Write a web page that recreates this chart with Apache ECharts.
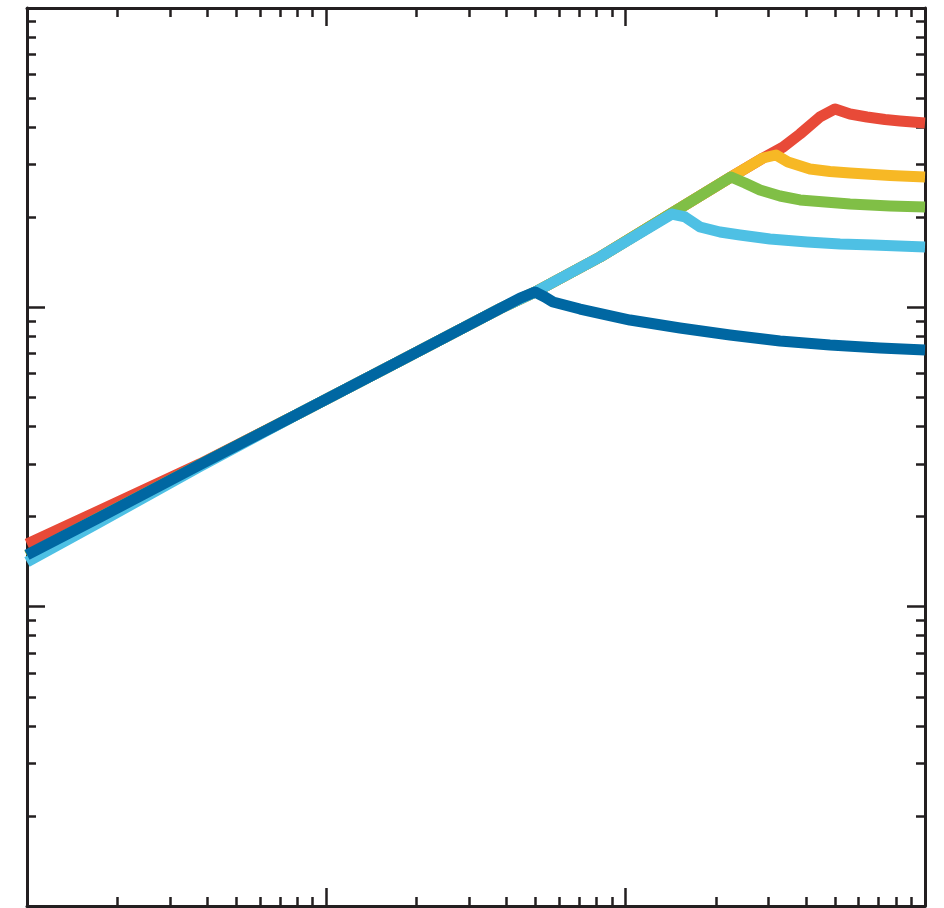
<!DOCTYPE html>
<html>
<head>
<meta charset="utf-8">
<script src="https://cdn.jsdelivr.net/npm/echarts@6/dist/echarts.min.js"></script>
<style>html,body{margin:0;padding:0;background:#fff}#c{width:944px;height:908px}</style>
</head>
<body>
<div id="c"></div>
<script>
// x, y pairs (x: 1..1000, y: 1..1000)
const seriesNames = ['A', 'B', 'C', 'D', 'E'];
const colors = ['#E84A38', '#F7B825', '#80BF46', '#4EC0E4', '#0067A2'];

const redX    = [1, 1.754, 3.784, 8.17, 17.63, 38.04, 49.8, 82.1, 142.8, 224.9, 287.6, 335.4, 382.3, 445.9, 500.6, 561.7, 640.3, 735.2, 825.1, 1000];
const redY    = [16.2, 21.0, 30.0, 44.4, 66.3, 99.0, 112.5, 147.3, 206.6, 272.5, 315.4, 343.0, 379.4, 433.0, 459.9, 442.5, 432.4, 424.2, 419.3, 412.9];

const yellowX = [1, 1.754, 3.784, 8.17, 17.63, 38.04, 49.8, 82.1, 142.8, 224.9, 287.6, 317.9, 348.5, 412.9, 481.6, 561.7, 764.1, 1000];
const yellowY = [14.8, 19.9, 29.8, 44.4, 66.3, 99.0, 112.5, 147.3, 206.6, 272.5, 315.4, 322.8, 305.9, 289.9, 284.3, 281.0, 275.7, 272.5];

const greenX  = [1, 1.754, 3.784, 8.17, 17.63, 38.04, 49.8, 82.1, 142.8, 224.9, 250.4, 281.0, 327.8, 382.3, 463.4, 561.7, 764.1, 1000];
const greenY  = [14.8, 19.9, 29.8, 44.4, 66.3, 99.0, 112.5, 147.3, 206.6, 272.5, 260.3, 246.6, 235.5, 228.4, 224.9, 221.5, 218.1, 216.4];

const lblueX  = [1, 1.754, 3.784, 8.17, 17.63, 38.04, 49.8, 82.1, 142.8, 157.9, 177.2, 206.6, 241.0, 303.5, 403.6, 520.2, 670.4, 1000];
const lblueY  = [14.1, 19.2, 29.4, 44.4, 66.3, 99.0, 112.5, 147.3, 205.0, 200.4, 185.5, 178.5, 174.4, 169.1, 165.3, 162.8, 161.6, 159.1];

const dblueX  = [1, 1.754, 3.784, 8.17, 17.63, 38.04, 44.4, 49.8, 53.7, 57.2, 70.4, 103.4, 151.9, 223.2, 327.8, 481.5, 707.5, 1000];
const dblueY  = [14.9, 19.9, 29.8, 44.4, 66.3, 99.0, 107.4, 112.5, 108.3, 104.2, 98.7, 90.7, 85.3, 80.8, 77.2, 74.8, 73.1, 72.0];

const majorTicks = [1, 10, 100, 1000];
const minorTicks = [2,3,4,5,6,7,8,9, 20,30,40,50,60,70,80,90, 200,300,400,500,600,700,800,900];

const xs = [redX, yellowX, greenX, lblueX, dblueX];
const ys = [redY, yellowY, greenY, lblueY, dblueY];

const frame = '#231F20';
function axis(pos, major, drawLine) {
  return {
    type: 'log', logBase: 10, min: 1, max: 1000, position: pos,
    axisLine: { show: drawLine, onZero: false, lineStyle: { color: frame, width: 3 } },
    axisTick: { show: true, inside: true, length: major ? 18 : 9,
      customValues: major ? majorTicks : minorTicks,
      lineStyle: { color: frame, width: 2.5 } },
    axisLabel: { show: false },
    splitLine: { show: false },
    minorTick: { show: false }
  };
}

const chart = echarts.init(document.getElementById('c'));
chart.setOption({
  animation: false,
  backgroundColor: '#fff',
  grid: { left: 27, right: 19, top: 8, bottom: 2, containLabel: false },
  xAxis: [axis('bottom',true,true), axis('bottom',false,false), axis('top',true,true), axis('top',false,false)],
  yAxis: [axis('left',true,true), axis('left',false,false), axis('right',true,true), axis('right',false,false)],
  series: seriesNames.map((n, i) => ({
    name: n, type: 'line', xAxisIndex: 0, yAxisIndex: 0,
    data: xs[i].map((x, k) => [x, ys[i][k]]),
    showSymbol: false, smooth: false, z: 2 + i,
    lineStyle: { color: colors[i], width: 11, join: 'round', cap: 'butt' },
    itemStyle: { color: colors[i] }
  }))
});
</script>
</body>
</html>
